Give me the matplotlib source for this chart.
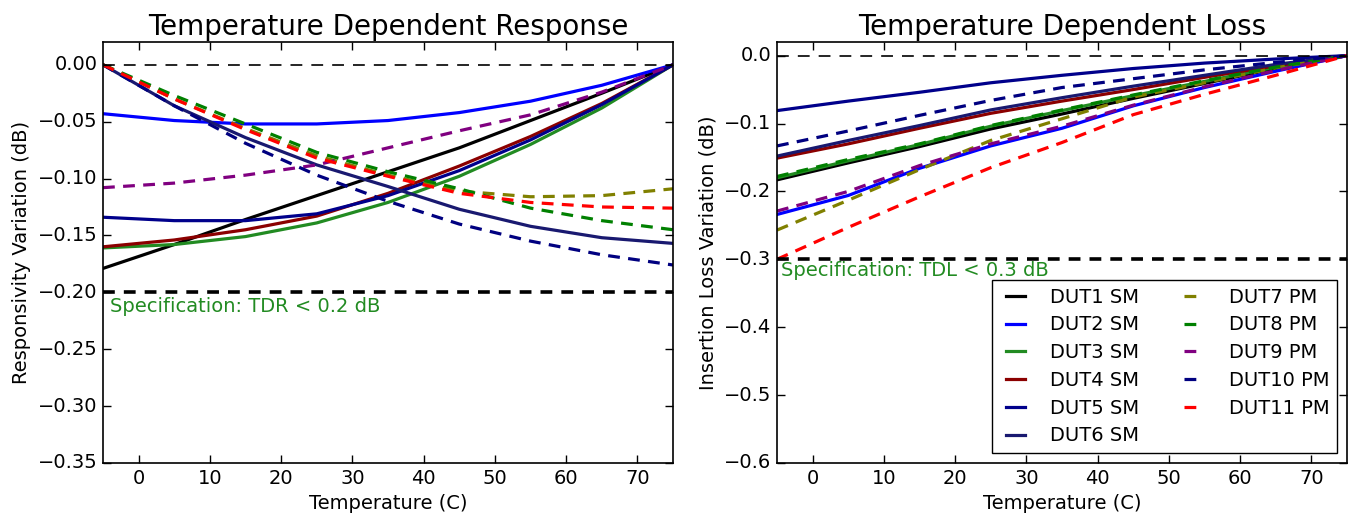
import matplotlib
matplotlib.use('Agg')
import matplotlib.pyplot as plt

# temperatures where curves were sampled (C)
temps = [-5, 5, 15, 25, 35, 45, 55, 65, 75]

labels = ['DUT1 SM', 'DUT2 SM', 'DUT3 SM', 'DUT4 SM', 'DUT5 SM', 'DUT6 SM',
          'DUT7 PM', 'DUT8 PM', 'DUT9 PM', 'DUT10 PM', 'DUT11 PM']

# responsivity variation (dB), left panel
tdr_dut1 = [-0.179, -0.158, -0.136, -0.115, -0.094, -0.073, -0.049, -0.025, 0.0]
tdr_dut2 = [-0.043, -0.049, -0.052, -0.052, -0.049, -0.042, -0.032, -0.018, 0.0]
tdr_dut3 = [-0.161, -0.158, -0.151, -0.139, -0.121, -0.098, -0.070, -0.038, 0.0]
tdr_dut4 = [-0.160, -0.154, -0.145, -0.133, -0.113, -0.089, -0.063, -0.034, 0.0]
tdr_dut5 = [-0.134, -0.137, -0.137, -0.131, -0.115, -0.093, -0.066, -0.035, 0.0]
tdr_dut6 = [0.0, -0.036, -0.064, -0.088, -0.107, -0.127, -0.142, -0.152, -0.157]
tdr_dut7 = [0.0, -0.030, -0.056, -0.080, -0.097, -0.111, -0.116, -0.115, -0.109]
tdr_dut8 = [0.0, -0.027, -0.052, -0.077, -0.094, -0.109, -0.126, -0.137, -0.145]
tdr_dut9 = [-0.108, -0.104, -0.097, -0.088, -0.073, -0.058, -0.044, -0.024, 0.0]
tdr_dut10 = [0.0, -0.036, -0.069, -0.097, -0.120, -0.140, -0.155, -0.167, -0.176]
tdr_dut11 = [0.0, -0.030, -0.057, -0.082, -0.098, -0.113, -0.121, -0.125, -0.126]

# insertion loss variation (dB), right panel
tdl_dut1 = [-0.183, -0.158, -0.134, -0.108, -0.086, -0.063, -0.041, -0.019, 0.0]
tdl_dut2 = [-0.234, -0.206, -0.166, -0.133, -0.107, -0.074, -0.047, -0.023, 0.0]
tdl_dut3 = [-0.180, -0.155, -0.131, -0.104, -0.081, -0.059, -0.038, -0.017, 0.0]
tdl_dut4 = [-0.151, -0.130, -0.107, -0.085, -0.067, -0.050, -0.032, -0.015, 0.0]
tdl_dut5 = [-0.081, -0.067, -0.054, -0.040, -0.029, -0.019, -0.011, -0.005, 0.0]
tdl_dut6 = [-0.148, -0.125, -0.103, -0.080, -0.062, -0.045, -0.029, -0.013, 0.0]
tdl_dut7 = [-0.257, -0.213, -0.168, -0.125, -0.093, -0.061, -0.040, -0.018, 0.0]
tdl_dut8 = [-0.178, -0.153, -0.130, -0.103, -0.080, -0.058, -0.037, -0.017, 0.0]
tdl_dut9 = [-0.229, -0.200, -0.162, -0.130, -0.104, -0.073, -0.046, -0.022, 0.0]
tdl_dut10 = [-0.133, -0.111, -0.088, -0.066, -0.047, -0.034, -0.021, -0.010, 0.0]
tdl_dut11 = [-0.300, -0.253, -0.208, -0.165, -0.128, -0.087, -0.057, -0.029, 0.0]

tdr_all = [tdr_dut1, tdr_dut2, tdr_dut3, tdr_dut4, tdr_dut5, tdr_dut6,
           tdr_dut7, tdr_dut8, tdr_dut9, tdr_dut10, tdr_dut11]
tdl_all = [tdl_dut1, tdl_dut2, tdl_dut3, tdl_dut4, tdl_dut5, tdl_dut6,
           tdl_dut7, tdl_dut8, tdl_dut9, tdl_dut10, tdl_dut11]

colors = ['black', 'blue', 'forestgreen', 'darkred', 'darkblue', 'midnightblue',
          'olive', 'green', 'purple', 'navy', 'red']
dashed = [False] * 6 + [True] * 5

plt.style.use('classic')
plt.rcParams['font.family'] = 'DejaVu Sans'

DASH = (8.5, 6.0)

fig = plt.figure(figsize=(13.57, 5.19), dpi=100, facecolor='white')
ax1 = fig.add_axes([0.0759, 0.108, 0.4201, 0.811])
ax2 = fig.add_axes([0.5726, 0.108, 0.4200, 0.811])


def draw(ax, series):
    for ys, c, d, lab in zip(series, colors, dashed, labels):
        if d:
            ax.plot(temps, ys, '--', dashes=DASH, color=c, lw=2.3, label=lab)
        else:
            ax.plot(temps, ys, '-', color=c, lw=2.3, label=lab)


draw(ax1, tdr_all)
draw(ax2, tdl_all)

# reference / spec lines
ax1.axhline(0.0, color='black', ls='--', dashes=(8.5, 6.5), lw=1.2)
ax1.axhline(-0.2, color='black', ls='--', dashes=(8.5, 6.5), lw=2.6)
ax1.text(-4, -0.204, 'Specification: TDR < 0.2 dB', color='forestgreen',
         fontsize=14, va='top', ha='left')
ax2.axhline(0.0, color='black', ls='--', dashes=(8.5, 6.5), lw=1.2)
ax2.axhline(-0.3, color='black', ls='--', dashes=(8.5, 6.5), lw=2.6)
ax2.text(-4.5, -0.302, 'Specification: TDL < 0.3 dB', color='forestgreen',
         fontsize=14, va='top', ha='left')

ax1.set_xlim(-5, 75)
ax1.set_ylim(-0.35, 0.02)
ax1.set_yticks([-0.35, -0.30, -0.25, -0.20, -0.15, -0.10, -0.05, 0.00])
ax1.set_yticklabels(['\u22120.35', '\u22120.30', '\u22120.25', '\u22120.20',
                     '\u22120.15', '\u22120.10', '\u22120.05', '0.00'])
ax1.set_xticks(range(0, 80, 10))
ax1.set_title('Temperature Dependent Response', fontsize=20)
ax1.set_xlabel('Temperature (C)', fontsize=14)
ax1.set_ylabel('Responsivity Variation (dB)', fontsize=14)

ax2.set_xlim(-5, 75)
ax2.set_ylim(-0.6, 0.02)
ax2.set_yticks([-0.6, -0.5, -0.4, -0.3, -0.2, -0.1, 0.0])
ax2.set_xticks(range(0, 80, 10))
ax2.set_title('Temperature Dependent Loss', fontsize=20)
ax2.set_xlabel('Temperature (C)', fontsize=14)
ax2.set_ylabel('Insertion Loss Variation (dB)', fontsize=14)

for ax in (ax1, ax2):
    ax.tick_params(labelsize=14, direction='in', length=6, width=1)
    for sp in ax.spines.values():
        sp.set_linewidth(1.2)

ax2.legend(loc='lower right', ncol=2, fontsize=14, handlelength=1.6,
           handletextpad=1.0, fancybox=False, borderaxespad=0.5,
           columnspacing=2.0, labelspacing=0.45, numpoints=2)

fig.savefig('out.png', dpi=100, facecolor='white')
